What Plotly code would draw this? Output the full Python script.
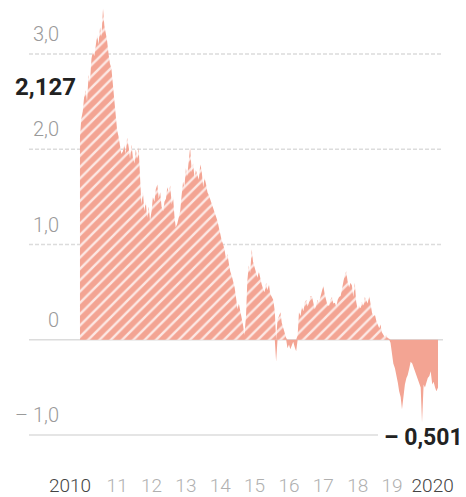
import pandas as pd
import plotly.graph_objects as go

# ---- data (semi-monthly readings, Jun 2010 - Nov 2020) ----
v2010 = [2.127, 2.32, 2.40, 2.55, 2.62, 2.50, 2.78, 2.70, 2.95, 3.02, 2.98, 3.12, 3.20, 3.10]
v2011 = [3.28, 3.18, 3.48, 3.30, 3.22, 3.15, 3.00, 2.90, 2.85, 2.70, 2.50, 2.35, 2.20, 2.14, 2.04, 1.95, 1.98, 2.05, 1.95, 2.12, 2.02, 1.90, 2.05, 1.92]
v2012 = [1.85, 2.00, 1.90, 2.02, 1.70, 1.42, 1.55, 1.35, 1.45, 1.28, 1.40, 1.25, 1.35, 1.50, 1.45, 1.58, 1.63, 1.48, 1.55, 1.40, 1.35, 1.45, 1.48, 1.60]
v2013 = [1.55, 1.62, 1.42, 1.50, 1.30, 1.18, 1.22, 1.30, 1.35, 1.50, 1.66, 1.60, 1.80, 1.72, 1.88, 2.02, 1.76, 1.85, 1.70, 1.78, 1.73, 1.68, 1.84, 1.78]
v2014 = [1.60, 1.70, 1.63, 1.55, 1.52, 1.48, 1.45, 1.40, 1.35, 1.30, 1.25, 1.18, 1.11, 1.05, 1.00, 0.95, 0.84, 0.90, 0.80, 0.72, 0.67, 0.62, 0.55, 0.45]
v2015 = [0.32, 0.38, 0.30, 0.22, 0.15, 0.05, 0.25, 0.62, 0.78, 0.70, 0.95, 0.82, 0.75, 0.70, 0.65, 0.72, 0.63, 0.58, 0.53, 0.50, 0.60, 0.52, 0.58, 0.48]
v2016 = [0.45, 0.42, 0.30, -0.23, 0.21, 0.25, 0.29, 0.18, 0.12, 0.08, 0.02, -0.09, -0.05, -0.10, -0.06, -0.02, -0.08, -0.12, 0.05, 0.29, 0.25, 0.35, 0.30, 0.39]
v2017 = [0.42, 0.35, 0.40, 0.46, 0.46, 0.38, 0.32, 0.36, 0.42, 0.39, 0.45, 0.50, 0.57, 0.48, 0.40, 0.36, 0.36, 0.42, 0.45, 0.38, 0.39, 0.35, 0.42, 0.45]
v2018 = [0.46, 0.55, 0.62, 0.68, 0.72, 0.62, 0.55, 0.60, 0.57, 0.45, 0.60, 0.40, 0.32, 0.36, 0.33, 0.40, 0.36, 0.45, 0.42, 0.38, 0.46, 0.35, 0.28, 0.25]
v2019 = [0.26, 0.20, 0.16, 0.12, 0.16, 0.08, 0.05, 0.03, 0.05, 0.02, 0.01, -0.03, -0.13, -0.25, -0.30, -0.36, -0.45, -0.54, -0.60, -0.73, -0.55, -0.47, -0.40, -0.37]
v2020 = [-0.30, -0.23, -0.25, -0.29, -0.33, -0.36, -0.40, -0.45, -0.50, -0.87, -0.47, -0.50, -0.43, -0.40, -0.38, -0.33, -0.47, -0.44, -0.50, -0.54, -0.501]

values = v2010 + v2011 + v2012 + v2013 + v2014 + v2015 + v2016 + v2017 + v2018 + v2019 + v2020
dates = pd.date_range("2010-06-01", periods=len(values), freq="SMS")

x_tick_dates = ["2010-02-15", "2011-07-01", "2012-07-01", "2013-07-01", "2014-07-01", "2015-07-01",
                "2016-07-01", "2017-07-01", "2018-07-01", "2019-07-01", "2020-09-05"]
x_tick_labels = ["2010", "11", "12", "13", "14", "15", "16", "17", "18", "19", "2020"]
y_tick_vals = [3, 2, 1, 0, -1]
y_tick_labels = ["3,0", "2,0", "1,0", "0", "– 1,0"]
first_label = "2,127"
last_label = "– 0,501"

# ---- styling ----
SALMON = "#F3A493"
W, H = 466, 497
L, R, T, B = 62, 23, 4, 47
plot_w = W - L - R

pos = [max(v, 0) for v in values]
neg = [min(v, 0) for v in values]

fig = go.Figure()
fig.add_trace(go.Scatter(
    x=dates, y=pos, mode="lines", line=dict(width=0, color=SALMON),
    fill="tozeroy", fillcolor=SALMON,
    fillpattern=dict(shape="/", bgcolor=SALMON, fgcolor="white", fgopacity=0.75, size=8, solidity=0.3),
    hoverinfo="skip", showlegend=False))
fig.add_trace(go.Scatter(
    x=dates, y=neg, mode="lines", line=dict(width=0, color=SALMON),
    fill="tozeroy", fillcolor=SALMON, hoverinfo="skip", showlegend=False))

# gridlines
x0 = (29 - L) / plot_w
for yv in y_tick_vals:
    dashed = yv > 0
    x1 = (378 - L) / plot_w if yv == -1 else 1.0
    fig.add_shape(type="line", xref="paper", yref="y", x0=x0, x1=x1, y0=yv, y1=yv,
                  line=dict(color="#DCDCDC", width=1.5, dash="4px,2px" if dashed else "solid"),
                  layer="below")

xt = []
for t in x_tick_labels:
    if len(t) == 4:
        xt.append(f"<span style='color:#444444'>{t}</span>")
    else:
        xt.append(t)

fig.update_layout(
    width=W, height=H, margin=dict(l=L, r=R, t=T, b=B, autoexpand=False),
    plot_bgcolor="white", paper_bgcolor="white",
    font=dict(family="Roboto, Arial, sans-serif", size=20, color="#A8A8A8", weight=300),
    xaxis=dict(type="date", range=["2009-11-22", "2020-12-24"], showgrid=False, zeroline=False,
               showline=False, ticks="", tickvals=x_tick_dates, ticktext=xt, automargin=False,
               tickfont=dict(size=19, color="#B0B0B0"), ticklabelstandoff=22),
    yaxis=dict(range=[-1.157, 3.525], showgrid=False, zeroline=False, showline=False, ticks="",
               tickvals=y_tick_vals, ticktext=y_tick_labels, tickfont=dict(size=20, color="#9A9A9A"),
               ticklabelstandoff=2, ticklabelshift=-20, automargin=False),
)

fig.add_annotation(x=dates[0], y=values[0], text=f"<b>{first_label}</b>", showarrow=False,
                   xanchor="right", yanchor="middle", xshift=-2, yshift=50,
                   font=dict(size=24, color="#222222", family="Roboto, Arial, sans-serif"))
fig.add_annotation(x=dates[-1], y=values[-1], text=f"<b>{last_label}</b>", showarrow=False,
                   xanchor="right", yanchor="middle", xshift=27, yshift=-50,
                   font=dict(size=23, color="#222222", family="Roboto, Arial, sans-serif"))

fig.write_html("out.html", config={"displayModeBar": False},
               post_script="document.body.style.margin='0';document.body.style.overflow='hidden';")
